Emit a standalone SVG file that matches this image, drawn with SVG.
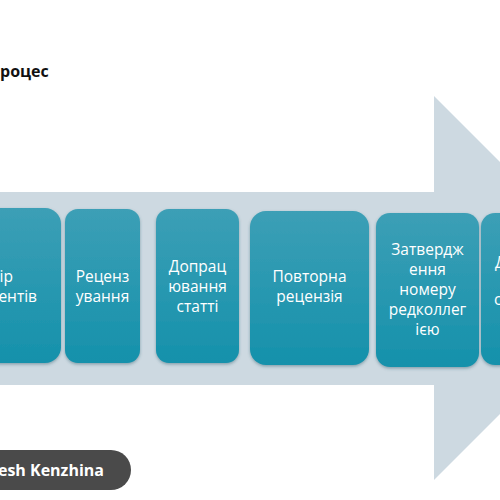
<svg xmlns="http://www.w3.org/2000/svg" width="500" height="500" viewBox="0 0 500 500">
<defs>
<linearGradient id="g" x1="0" y1="0" x2="0" y2="1">
<stop offset="0" stop-color="#3c9fb6"/>
<stop offset="1" stop-color="#1591ab"/>
</linearGradient>
<filter id="sh" x="-10%" y="-10%" width="120%" height="120%">
<feDropShadow dx="0" dy="1.5" stdDeviation="1.5" flood-color="#2a5a6a" flood-opacity="0.45"/>
</filter>
<style>
.box{fill:url(#g);filter:url(#sh)}
.t{font-family:"Open Sans","Noto Sans",sans-serif;font-size:15.5px;fill:#ffffff;text-anchor:middle}
</style>
</defs>
<rect width="500" height="500" fill="#ffffff"/>
<text x="0" y="77" font-family="'Open Sans','Noto Sans',sans-serif" font-size="16" font-weight="bold" fill="#111">роцес</text>
<polygon id="arrow" points="-10,192 434,192 434,96 626,288 434,480 434,385 -10,385" fill="#cdd9e1"/>
<g id="connectors"/>
<g id="n1">
<rect class="box" x="-70" y="208" width="131" height="155" rx="16"/>
<text class="t" x="13" y="282" style="text-anchor:end">ір</text>
<text class="t" x="37" y="302" style="text-anchor:end">ентів</text>
</g>
<g id="n2">
<rect class="box" x="65" y="209" width="75" height="154" rx="13"/>
<text class="t" x="102.5" y="282">Реценз</text>
<text class="t" x="102.5" y="302">ування</text>
</g>
<g id="n3">
<rect class="box" x="156" y="209" width="83" height="154" rx="13"/>
<text class="t" x="197.5" y="272">Допрац</text>
<text class="t" x="197.5" y="292">ювання</text>
<text class="t" x="197.5" y="312">статті</text>
</g>
<g id="n4">
<rect class="box" x="250" y="211" width="119" height="154" rx="16"/>
<text class="t" x="309.5" y="282">Повторна</text>
<text class="t" x="309.5" y="302">рецензія</text>
</g>
<g id="n5">
<rect class="box" x="376" y="213" width="103" height="154" rx="14"/>
<text class="t" x="427.5" y="255">Затвердж</text>
<text class="t" x="427.5" y="275">ення</text>
<text class="t" x="427.5" y="295">номеру</text>
<text class="t" x="427.5" y="315">редколлег</text>
<text class="t" x="427.5" y="335">ією</text>
</g>
<g id="n6">
<rect class="box" x="481" y="213" width="100" height="152" rx="14"/>
<text class="t" x="495" y="268" style="text-anchor:start">Д</text>
<text class="t" x="494" y="305" style="text-anchor:start">с</text>
</g>
<g id="badge">
<rect x="-40" y="450" width="171" height="40" rx="20" fill="#4a4a4a"/>
<text x="104" y="476" font-family="'Open Sans','Noto Sans',sans-serif" font-size="16" font-weight="bold" fill="#ffffff" text-anchor="end">esh Kenzhina</text>
</g>
</svg>
